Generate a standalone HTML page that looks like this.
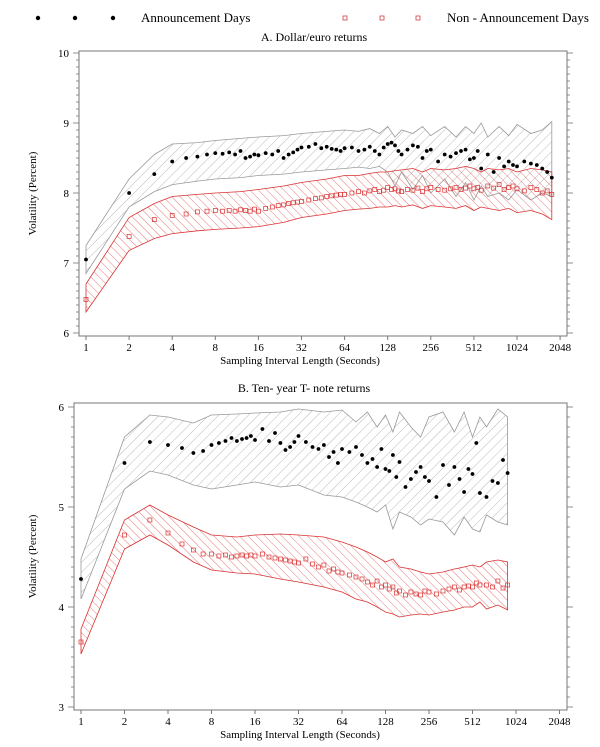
<!DOCTYPE html>
<html><head><meta charset="utf-8">
<style>
html,body{margin:0;padding:0;background:#fff;}
svg{display:block;font-family:"Liberation Serif",serif;}
</style></head>
<body>
<svg id="chart" width="600" height="747" viewBox="0 0 600 747">
<defs>
<pattern id="hatchGray" patternUnits="userSpaceOnUse" width="7" height="7" patternTransform="rotate(45)">
<line x1="0" y1="0" x2="0" y2="7" stroke="#a8a8a8" stroke-width="0.8"/>
</pattern>
<pattern id="hatchRed" patternUnits="userSpaceOnUse" width="6" height="6" patternTransform="rotate(-45)">
<line x1="0" y1="0" x2="0" y2="6" stroke="#e05858" stroke-width="0.8"/>
</pattern>
</defs>
<g>
<circle cx="38" cy="18" r="2.2" fill="#000"/>
<circle cx="75" cy="18" r="2.2" fill="#000"/>
<circle cx="113" cy="18" r="2.2" fill="#000"/>
<text x="141" y="22" font-size="13">Announcement Days</text>
<rect x="343" y="16" width="4" height="4" fill="none" stroke="#d04040" stroke-width="0.8"/>
<rect x="380" y="16" width="4" height="4" fill="none" stroke="#d04040" stroke-width="0.8"/>
<rect x="416" y="16" width="4" height="4" fill="none" stroke="#d04040" stroke-width="0.8"/>
<text x="447" y="22" font-size="13">Non - Announcement Days</text>
</g>
<g id="panelA"></g>
<g id="panelB"></g>
</svg>
<script>
const ptX_A = [1,2,3,4,5,6,7,8,9,10,11,12,13,14,15,16,18,20,22,24,26,28,30,32,36,40,44,48,52,56,60,64,72,80,88,96,104,112,120,128,136,144,152,160,176,192,208,224,240,256,288,320,352,384,416,448,480,512,544,576,640,704,768,832,896,960,1024,1152,1280,1408,1536,1664,1792];
const ann_A = [7.05,8.0,8.27,8.45,8.5,8.52,8.55,8.57, 8.56,8.58,8.55,8.6,8.5,8.52,8.55,8.54, 8.57,8.55,8.6,8.5,8.55,8.58,8.62,8.65, 8.66,8.7,8.64,8.66,8.63,8.62,8.6,8.64, 8.65,8.6,8.62,8.66,8.6,8.55,8.65,8.7, 8.72,8.68,8.6,8.55,8.62,8.68,8.66,8.5,8.6,8.62, 8.45,8.55,8.52,8.57,8.6,8.62,8.48,8.5, 8.6,8.35,8.55,8.3,8.5,8.38,8.45,8.4,8.38, 8.45,8.42,8.4,8.35,8.3,8.22];
const non_A = [6.48,7.38,7.62,7.68,7.7,7.73,7.74,7.75, 7.74,7.75,7.74,7.76,7.75,7.74,7.77,7.74, 7.78,7.8,7.82,7.83,7.85,7.86,7.87,7.88, 7.9,7.92,7.93,7.95,7.96,7.97,7.98,7.98, 8.0,8.02,8.0,8.03,8.05,8.02,8.04,8.08, 8.05,8.06,8.03,8.02,8.05,8.04,8.07,8.02,8.06,8.08, 8.05,8.04,8.06,8.08,8.05,8.07,8.1,8.06, 8.08,8.04,8.1,8.07,8.12,8.05,8.08,8.1,8.06, 8.03,8.08,8.05,8.0,8.03,7.98];
const bandX_A = [1,2,3,4,6,8,12,16,24,32,48,64,80,96,112,128,144,160,192,224,256,320,384,448,512,576,640,768,896,1024,1280,1536,1792];
const grayU_A = [7.25,8.2,8.55,8.7,8.72,8.75,8.78,8.8,8.82,8.85,8.88,8.9,8.88,8.92,8.85,8.95,8.8,8.9,8.85,8.95,8.82,8.95,8.8,8.95,8.85,9.0,8.8,8.95,8.82,8.98,8.85,8.9,9.02];
const grayL_A = [6.85,7.8,8.02,8.12,8.17,8.2,8.22,8.25,8.27,8.3,8.33,8.35,8.37,8.35,8.38,8.3,8.1,8.3,8.05,8.25,8.0,8.2,7.95,8.15,7.9,8.1,7.95,8.0,7.9,8.05,7.9,8.0,7.95];
const redU_A = [6.7,7.65,7.85,7.95,7.98,8.0,8.02,8.05,8.1,8.15,8.2,8.25,8.25,8.28,8.3,8.3,8.32,8.33,8.35,8.3,8.35,8.33,8.35,8.38,8.35,8.3,8.35,8.33,8.35,8.3,8.35,8.33,8.3];
const redL_A = [6.3,7.18,7.35,7.42,7.46,7.48,7.5,7.52,7.58,7.65,7.7,7.75,7.77,7.78,7.8,7.8,7.82,7.8,7.83,7.78,7.82,7.8,7.78,7.82,7.75,7.8,7.78,7.75,7.78,7.72,7.75,7.7,7.62];

const ptX_B = [1,2,3,4,5,6,7,8,9,10,11,12,13,14,15,16,18,20,22,24,26,28,30,32,36,40,44,48,52,56,60,64,72,80,88,96,104,112,120,128,136,144,152,160,176,192,208,224,240,256,288,320,352,384,416,448,480,512,544,576,640,704,768,832,896];
const ann_B = [4.28,5.44,5.65,5.62,5.59,5.54,5.56,5.62, 5.64,5.66,5.69,5.66,5.68,5.69,5.71,5.67, 5.78,5.66,5.74,5.64,5.57,5.6,5.65,5.71, 5.65,5.6,5.58,5.62,5.5,5.55,5.44,5.58, 5.55,5.6,5.52,5.44,5.48,5.4,5.58,5.38, 5.36,5.52,5.3,5.45,5.2,5.28,5.35,5.4,5.3,5.26, 5.1,5.42,5.22,5.4,5.28,5.15,5.38,5.33, 5.64,5.14,5.1,5.26,5.24,5.47,5.34];
const non_B = [3.65,4.72,4.87,4.74,4.63,4.57,4.53,4.53, 4.51,4.52,4.5,4.51,4.52,4.51,4.52,4.51, 4.53,4.5,4.49,4.48,4.47,4.46,4.45,4.44, 4.48,4.43,4.4,4.42,4.36,4.38,4.35,4.34, 4.32,4.3,4.28,4.25,4.22,4.26,4.2,4.22, 4.18,4.2,4.14,4.16,4.12,4.15,4.13,4.12,4.16,4.15, 4.13,4.16,4.18,4.2,4.17,4.2,4.21,4.2, 4.24,4.22,4.22,4.2,4.26,4.19,4.22];
const bandX_B = [1,2,3,4,6,8,12,16,24,32,48,64,80,96,112,128,144,160,192,224,256,320,384,448,512,576,640,768,896];
const grayU_B = [4.48,5.7,5.92,5.9,5.84,5.92,5.93,5.94,5.95,5.98,5.95,5.97,5.85,5.95,5.8,5.92,5.75,5.95,5.8,5.7,5.9,5.95,5.75,5.95,5.7,5.9,5.8,5.98,5.9];
const grayL_B = [4.08,5.18,5.36,5.32,5.22,5.18,5.22,5.25,5.2,5.22,5.12,5.1,5.05,5.0,4.95,5.02,4.78,4.95,4.9,4.82,4.88,4.85,4.72,4.9,4.78,4.75,4.92,4.85,4.82];
const redU_B = [3.78,4.87,5.02,4.92,4.8,4.72,4.7,4.72,4.73,4.72,4.7,4.65,4.6,4.55,4.5,4.45,4.48,4.4,4.38,4.35,4.33,4.35,4.38,4.4,4.42,4.4,4.45,4.47,4.45];
const redL_B = [3.53,4.58,4.72,4.62,4.45,4.37,4.34,4.33,4.28,4.25,4.2,4.15,4.08,4.05,4.0,3.95,3.93,3.9,3.92,3.93,3.92,3.95,3.97,4.0,4.0,4.05,3.98,4.02,3.97];

const xTickLabels = ["1","2","4","8","16","32","64","128","256","512","1024","2048"];
const yTicksA = [6,7,8,9,10];
const yTicksB = [3,4,5,6];

const NS = "http://www.w3.org/2000/svg";
function mk(tag, attrs, parent){
  const e = document.createElementNS(NS, tag);
  for (const k in attrs) e.setAttribute(k, attrs[k]);
  parent.appendChild(e);
  return e;
}

function drawPanel(g, cfg){
  const xs = v => cfg.x1 + Math.log2(v) * cfg.step;
  const ys = v => cfg.yBase - (v - cfg.yMin) * cfg.ppu;

  const title = mk('text', {x: cfg.titleX, y: cfg.titleY, 'font-size': 12, 'text-anchor': 'middle'}, g);
  title.textContent = cfg.title;
  
  

  function band(xArr, uArr, lArr, fill, stroke, name){
    let d = '';
    xArr.forEach((x, i) => { d += (i ? 'L' : 'M') + xs(x).toFixed(1) + ',' + ys(uArr[i]).toFixed(1); });
    for (let i = xArr.length - 1; i >= 0; i--) d += 'L' + xs(xArr[i]).toFixed(1) + ',' + ys(lArr[i]).toFixed(1);
    d += 'Z';
    const p = mk('path', {d: d, fill: fill, stroke: stroke, 'stroke-width': 0.8}, g);
    
    
  }
  band(cfg.bx, cfg.gu, cfg.gl, 'url(#hatchGray)', '#999', 'announcement-confidence-band');
  band(cfg.bx, cfg.ru, cfg.rl, 'url(#hatchRed)', '#d83030', 'non-announcement-confidence-band');

  cfg.px.forEach((x, i) => {
    const r = mk('rect', {x: (xs(x) - 2).toFixed(1), y: (ys(cfg.non[i]) - 2).toFixed(1), width: 4, height: 4, fill: 'none', stroke: '#d83030', 'stroke-width': 0.7}, g);
    
    
  });
  cfg.px.forEach((x, i) => {
    const c = mk('circle', {cx: xs(x).toFixed(1), cy: ys(cfg.ann[i]).toFixed(1), r: 1.9, fill: '#000'}, g);
    
    
  });

  const box = mk('rect', {x: cfg.bl, y: cfg.bt, width: cfg.br - cfg.bl, height: cfg.bb - cfg.bt, fill: 'none', stroke: '#777', 'stroke-width': 1}, g);
  
  

  xTickLabels.forEach((lab, i) => {
    const x = xs(Math.pow(2, i));
    mk('line', {x1: x, y1: cfg.bb, x2: x, y2: cfg.bb + 4, stroke: '#777'}, g);
    const t = mk('text', {x: x, y: cfg.bb + 15, 'font-size': 11, 'text-anchor': 'middle'}, g);
    t.textContent = lab;
    
    
  });
  const xt = mk('text', {x: 300, y: cfg.bb + 28, 'font-size': 11, 'text-anchor': 'middle'}, g);
  xt.textContent = 'Sampling Interval Length (Seconds)';
  
  

  const yMax = cfg.yTicks[cfg.yTicks.length - 1];
  for (let k = 0; k <= Math.round((yMax - cfg.yMin) * 10); k++) {
    const v = cfg.yMin + k / 10;
    const y = ys(v);
    const major = k % 10 === 0;
    const len = major ? 6 : 3;
    mk('line', {x1: cfg.bl - len, y1: y, x2: cfg.bl, y2: y, stroke: '#777', 'stroke-width': 0.8}, g);
    mk('line', {x1: cfg.br, y1: y, x2: cfg.br + len, y2: y, stroke: '#777', 'stroke-width': 0.8}, g);
  }
  cfg.yTicks.forEach(v => {
    const t = mk('text', {x: cfg.bl - 10, y: ys(v) + 4, 'font-size': 11, 'text-anchor': 'end'}, g);
    t.textContent = String(v);
    
    
  });
  const cy = (cfg.bt + cfg.bb) / 2;
  const yt = mk('text', {x: 36, y: cy, 'font-size': 11, 'text-anchor': 'middle', transform: 'rotate(-90 36 ' + cy + ')'}, g);
  yt.textContent = 'Volatility (Percent)';
  
  
}

drawPanel(document.getElementById('panelA'), {
  title: 'A. Dollar/euro returns', titleX: 314, titleY: 41,
  x1: 86, step: 43.1, yBase: 333, yMin: 6, ppu: 70,
  bl: 79, br: 567, bt: 51, bb: 336,
  yTicks: yTicksA,
  px: ptX_A, ann: ann_A, non: non_A,
  bx: bandX_A, gu: grayU_A, gl: grayL_A, ru: redU_A, rl: redL_A
});
drawPanel(document.getElementById('panelB'), {
  title: 'B. Ten- year T- note returns', titleX: 304, titleY: 392,
  x1: 81, step: 43.5, yBase: 707, yMin: 3, ppu: 100,
  bl: 74, br: 567, bt: 403, bb: 710,
  yTicks: yTicksB,
  px: ptX_B, ann: ann_B, non: non_B,
  bx: bandX_B, gu: grayU_B, gl: grayL_B, ru: redU_B, rl: redL_B
});
</script>
</body></html>
